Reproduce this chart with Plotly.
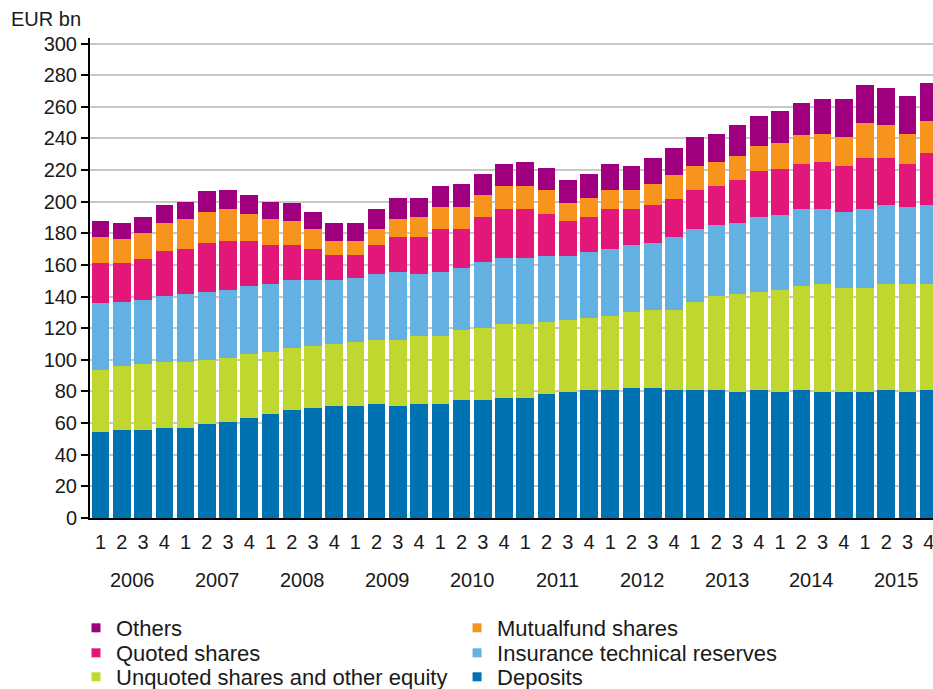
import plotly.graph_objects as go

YEARS = ["2006", "2007", "2008", "2009", "2010", "2011", "2012", "2013", "2014", "2015"]
QUARTERS = ["1", "2", "3", "4"]

deposits = [54.4, 55.6, 55.6, 56.9, 56.9, 59.4, 60.7, 63.2, 65.7, 68.3,
            69.5, 70.8, 70.8, 72.1, 70.8, 72.1, 72.1, 74.6, 74.6, 75.9,
            75.9, 78.4, 79.6, 80.9, 80.9, 82.4, 82.4, 80.9, 80.9, 80.9,
            79.6, 80.9, 79.6, 80.9, 79.6, 79.6, 79.6, 80.9, 79.6, 80.9]
unquoted = [39.2, 40.5, 41.7, 41.7, 41.7, 40.5, 40.4, 40.5, 39.2, 39.2,
            39.2, 39.2, 40.5, 40.4, 41.7, 42.9, 42.9, 44.2, 45.5, 46.7,
            46.7, 45.5, 45.6, 45.5, 46.9, 48.0, 49.3, 50.8, 55.8, 59.6,
            62.2, 62.2, 64.7, 65.9, 68.5, 66.0, 66.0, 67.2, 68.5, 67.2]
insurance = [42.1, 40.6, 40.7, 41.9, 43.2, 43.2, 43.2, 43.1, 43.2, 43.1,
             41.9, 40.6, 40.6, 41.9, 43.2, 39.4, 40.7, 39.4, 41.9, 41.9,
             41.9, 41.9, 40.6, 41.9, 42.0, 42.0, 42.0, 45.7, 45.8, 44.5,
             44.5, 47.0, 47.1, 48.3, 47.0, 48.2, 49.5, 49.5, 48.3, 49.5]
quoted = [25.3, 24.3, 25.5, 28.1, 28.1, 30.6, 30.7, 28.2, 24.3, 21.8,
          19.3, 15.5, 14.2, 18.0, 21.7, 23.0, 26.8, 24.3, 28.1, 30.6,
          30.6, 26.7, 21.7, 21.8, 25.3, 22.7, 23.9, 24.0, 25.2, 25.2,
          27.7, 29.0, 29.0, 29.0, 30.3, 29.0, 32.8, 30.3, 27.7, 32.9]
mutualfund = [16.4, 15.1, 16.5, 17.7, 18.9, 20.1, 20.1, 17.5, 16.4, 15.1,
              12.6, 8.9, 8.9, 10.1, 11.4, 12.7, 13.9, 13.9, 13.9, 15.1,
              15.1, 15.2, 11.4, 12.5, 12.6, 12.6, 13.9, 15.2, 15.1, 15.2,
              15.2, 16.4, 16.4, 17.8, 17.7, 17.8, 21.6, 20.3, 19.0, 20.3]
others = [10.3, 10.2, 10.1, 11.3, 11.3, 12.7, 12.6, 11.5, 11.3, 11.4,
          11.3, 11.3, 11.3, 12.6, 13.8, 12.5, 13.8, 15.1, 13.8, 13.9,
          15.2, 13.9, 15.1, 15.2, 16.4, 15.1, 16.4, 17.6, 17.8, 17.7,
          19.0, 19.0, 20.3, 20.2, 21.6, 24.1, 24.0, 24.0, 24.0, 24.0]

SERIES = [
    ("Deposits", deposits, "#0072b1"),
    ("Unquoted shares and other equity", unquoted, "#c0d72f"),
    ("Insurance technical reserves", insurance, "#63b0e3"),
    ("Quoted shares", quoted, "#e3177a"),
    ("Mutualfund shares", mutualfund, "#f7941d"),
    ("Others", others, "#a0007f"),
]

categories = [f"{y} Q{q}" for y in YEARS for q in QUARTERS]
quarter_text = [q for _ in YEARS for q in QUARTERS]

FONT = "Liberation Sans, Arial, sans-serif"
TXT = "#1a1a1a"

# legend slot per series: (paper x, container y) -> two columns, three rows
LEG_X = [-0.0166, 0.4354]
LEG_Y = [0.1190, 0.0827, 0.0479]
legend_slots = {
    "Others": (0, 0), "Mutualfund shares": (1, 0),
    "Quoted shares": (0, 1), "Insurance technical reserves": (1, 1),
    "Unquoted shares and other equity": (0, 2), "Deposits": (1, 2),
}

fig = go.Figure()
layout_legends = {}
for i, (name, vals, color) in enumerate(SERIES):
    lid = "legend" if i == 0 else f"legend{i + 1}"
    fig.add_trace(go.Bar(
        x=categories, y=vals, name=name, showlegend=False,
        marker=dict(color=color, line=dict(width=0)),
    ))
    # small square legend key (no data drawn)
    fig.add_trace(go.Scatter(
        x=[None], y=[None], mode="markers", name=name, legend=lid,
        marker=dict(symbol="square", size=9, color=color),
        showlegend=True, hoverinfo="skip",
    ))
    col, row = legend_slots[name]
    layout_legends[lid] = dict(
        x=LEG_X[col], xref="paper", xanchor="left",
        y=LEG_Y[row], yref="container", yanchor="top",
        font=dict(size=22, color=TXT, family=FONT),
        bgcolor="rgba(0,0,0,0)", itemclick=False, itemdoubleclick=False,
    )

annotations = [dict(
    text="EUR bn", xref="paper", yref="paper",
    x=-0.0960, y=1.0396, xanchor="left", yanchor="middle",
    showarrow=False, font=dict(size=20, color=TXT),
)]
for k, yr in enumerate(YEARS):
    annotations.append(dict(
        text=yr, xref="x", yref="paper", x=k * len(QUARTERS) + 1.5, y=-0.1292,
        xanchor="center", yanchor="middle", showarrow=False,
        font=dict(size=20, color=TXT),
    ))

fig.update_layout(
    width=933, height=689,
    barmode="stack", bargap=0.17,
    paper_bgcolor="white", plot_bgcolor="white",
    margin=dict(l=90, r=0, t=38, b=171),
    font=dict(family=FONT, size=20, color=TXT),
    annotations=annotations,
    **layout_legends,
)

fig.update_xaxes(
    type="category", range=[-0.5, 39.2], automargin=False,
    tickmode="array", tickvals=categories, ticktext=quarter_text,
    showgrid=False, tickangle=0,
    showline=True, linecolor="black", linewidth=2,
    ticks="outside", ticklen=5, tickcolor="rgba(0,0,0,0)",
    tickfont=dict(size=20, color=TXT),
)
fig.update_yaxes(
    range=[0, 303.5], dtick=20, tick0=0, automargin=False,
    showgrid=True, gridcolor="#c8c8c8", gridwidth=1.5,
    showline=True, linecolor="black", linewidth=2,
    ticks="outside", ticklen=7, tickcolor="black", tickwidth=1.5,
    tickfont=dict(size=20, color=TXT), zeroline=False,
)

fig.write_html(
    "out.html",
    config={"displayModeBar": False},
    post_script="document.body.style.margin='0';document.body.style.overflow='hidden';",
)
